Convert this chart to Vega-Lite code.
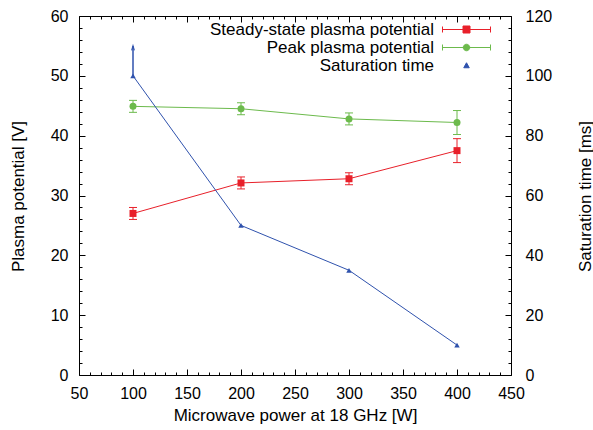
{
  "$schema": "https://vega.github.io/schema/vega-lite/v6.json",
  "width": 432,
  "height": 359,
  "autosize": {"type": "none"},
  "padding": {"left": 79, "top": 16, "right": 82, "bottom": 55},
  "config": {
    "font": "Liberation Sans",
    "view": {"stroke": "black", "strokeWidth": 1},
    "axis": {
      "domain": false,
      "grid": false,
      "ticks": true,
      "labelFontSize": 16,
      "titleFontSize": 17,
      "labelColor": "black",
      "titleColor": "black",
      "titleFontWeight": "normal",
      "tickColor": "black",
      "tickWidth": 1,
      "labelFlush": false,
      "labelOverlap": false
    },
    "legend": {
      "orient": "none",
      "legendX": 339,
      "legendY": 5,
      "padding": 0,
      "labelFontSize": 17,
      "labelColor": "black",
      "labelAlign": "right",
      "labelBaseline": "middle",
      "labelOffset": -41,
      "symbolOffset": 40,
      "symbolSize": 100,
      "labelLimit": 0,
      "rowPadding": 0
    }
  },
  "datasets": {
    "plasma": [
      {"power": 100, "series": "Steady-state plasma potential", "value": 27.0, "lo": 26.0, "hi": 28.0},
      {"power": 200, "series": "Steady-state plasma potential", "value": 32.1, "lo": 31.1, "hi": 33.1},
      {"power": 300, "series": "Steady-state plasma potential", "value": 32.8, "lo": 31.8, "hi": 33.8},
      {"power": 400, "series": "Steady-state plasma potential", "value": 37.5, "lo": 35.5, "hi": 39.5},
      {"power": 100, "series": "Peak plasma potential", "value": 44.9, "lo": 43.9, "hi": 45.9},
      {"power": 200, "series": "Peak plasma potential", "value": 44.5, "lo": 43.5, "hi": 45.5},
      {"power": 300, "series": "Peak plasma potential", "value": 42.8, "lo": 41.8, "hi": 43.8},
      {"power": 400, "series": "Peak plasma potential", "value": 42.2, "lo": 40.2, "hi": 44.2}
    ],
    "sat": [
      {"power": 100, "series": "Saturation time", "value": 100},
      {"power": 200, "series": "Saturation time", "value": 50},
      {"power": 300, "series": "Saturation time", "value": 35},
      {"power": 400, "series": "Saturation time", "value": 10}
    ],
    "arrow": [
      {"power": 100, "series": "Saturation time", "lo": 100, "hi": 110}
    ]
  },
  "layer": [
    {
      "data": {"name": "plasma"},
      "encoding": {
        "x": {
          "field": "power",
          "type": "quantitative",
          "scale": {"domain": [50, 450], "nice": false, "zero": false},
          "axis": {
            "orient": "bottom",
            "title": "Microwave power at 18 GHz [W]",
            "values": [50, 100, 150, 200, 250, 300, 350, 400, 450],
            "offset": -6,
            "tickSize": 6,
            "labelPadding": 10,
            "titleX": 216,
            "titleY": 46,
            "titleBaseline": "middle"
          }
        },
        "color": {
          "field": "series",
          "type": "nominal",
          "scale": {
            "domain": ["Steady-state plasma potential", "Peak plasma potential", "Saturation time"],
            "range": ["#e8202a", "#6cba4c", "#2f52ad"]
          },
          "legend": {
            "title": null,
            "encode": {
              "symbols": {
                "update": {
                  "shape": {"signal": "datum.value === 'Steady-state plasma potential' ? 'M-4.8,0H4.8M-4.8,-0.6V0.6M4.8,-0.6V0.6M-0.7,-0.7H0.7V0.7H-0.7Z' : datum.value === 'Peak plasma potential' ? 'M-4.8,0H4.8M-4.8,-0.6V0.6M4.8,-0.6V0.6M-0.65,0A0.65,0.65 0 1,0 0.65,0A0.65,0.65 0 1,0 -0.65,0Z' : 'M0,-0.55L0.55,0.45H-0.55Z'"},
                  "fill": {"scale": "color", "field": "value"},
                  "stroke": {"scale": "color", "field": "value"},
                  "strokeWidth": {"value": 1},
                  "opacity": {"value": 1},
                  "size": {"value": 100}
                }
              }
            }
          }
        }
      },
      "layer": [
        {
          "mark": {"type": "line", "strokeWidth": 1},
          "encoding": {
            "y": {
              "field": "value",
              "type": "quantitative",
              "scale": {"domain": [0, 60], "nice": false},
              "axis": {
                "orient": "left",
                "title": "Plasma potential [V]",
                "values": [0, 10, 20, 30, 40, 50, 60],
                "offset": -6,
                "tickSize": 6,
                "labelPadding": 11,
                "titleX": -67,
                "titleY": 180,
                "titleAngle": 270,
                "titleBaseline": "middle",
                "titleAlign": "center"
              }
            }
          }
        },
        {
          "mark": {"type": "rule", "strokeWidth": 1},
          "encoding": {
            "y": {"field": "lo", "type": "quantitative"},
            "y2": {"field": "hi"}
          }
        },
        {
          "mark": {"type": "tick", "orient": "horizontal", "size": 8, "thickness": 1, "opacity": 1},
          "encoding": {"y": {"field": "lo", "type": "quantitative"}}
        },
        {
          "mark": {"type": "tick", "orient": "horizontal", "size": 8, "thickness": 1, "opacity": 1},
          "encoding": {"y": {"field": "hi", "type": "quantitative"}}
        },
        {
          "transform": [{"filter": "datum.series === 'Steady-state plasma potential'"}],
          "mark": {"type": "point", "filled": true, "opacity": 1, "shape": "square", "size": 49},
          "encoding": {"y": {"field": "value", "type": "quantitative"}}
        },
        {
          "transform": [{"filter": "datum.series === 'Peak plasma potential'"}],
          "mark": {"type": "point", "filled": true, "opacity": 1, "shape": "circle", "size": 49},
          "encoding": {"y": {"field": "value", "type": "quantitative"}}
        }
      ]
    },
    {
      "encoding": {
        "x": {
          "field": "power",
          "type": "quantitative",
          "scale": {"domain": [50, 450], "nice": false, "zero": false},
          "axis": {
            "orient": "top",
            "title": null,
            "labels": false,
            "values": [50, 100, 150, 200, 250, 300, 350, 400, 450],
            "offset": -6,
            "tickSize": 6
          }
        },
        "color": {"field": "series", "type": "nominal"}
      },
      "layer": [
        {
          "data": {"name": "sat"},
          "mark": {"type": "line", "strokeWidth": 1},
          "encoding": {
            "y": {
              "field": "value",
              "type": "quantitative",
              "scale": {"domain": [0, 120], "nice": false},
              "axis": {
                "orient": "right",
                "title": "Saturation time [ms]",
                "values": [0, 20, 40, 60, 80, 100, 120],
                "offset": -6,
                "tickSize": 6,
                "labelPadding": 14,
                "titleX": 80,
                "titleY": 180,
                "titleAngle": 270,
                "titleBaseline": "middle",
                "titleAlign": "center"
              }
            }
          }
        },
        {
          "data": {"name": "sat"},
          "mark": {"type": "point", "filled": true, "opacity": 1, "shape": "triangle-up", "size": 30},
          "encoding": {"y": {"field": "value", "type": "quantitative"}}
        },
        {
          "data": {"name": "arrow"},
          "mark": {"type": "rule", "strokeWidth": 1.5},
          "encoding": {
            "y": {"field": "lo", "type": "quantitative"},
            "y2": {"field": "hi"}
          }
        },
        {
          "data": {"name": "arrow"},
          "mark": {"type": "point", "filled": false, "opacity": 1, "strokeWidth": 1.2, "shape": "M-0.6,2L0,0L0.6,2", "size": 20},
          "encoding": {"y": {"field": "hi", "type": "quantitative"}}
        }
      ]
    },
    {
      "data": {"name": "plasma"},
      "mark": {"type": "point", "opacity": 0},
      "encoding": {
        "x": {
          "field": "power",
          "type": "quantitative",
          "scale": {"domain": [50, 450], "nice": false, "zero": false},
          "axis": {
            "orient": "bottom",
            "title": null,
            "labels": false,
            "values": [60,70,80,90,110,120,130,140,160,170,180,190,210,220,230,240,260,270,280,290,310,320,330,340,360,370,380,390,410,420,430,440],
            "offset": -3,
            "tickSize": 3
          }
        },
        "y": {
          "field": "value",
          "type": "quantitative",
          "scale": {"domain": [0, 60], "nice": false},
          "axis": {
            "orient": "left",
            "title": null,
            "labels": false,
            "values": [2,4,6,8,12,14,16,18,22,24,26,28,32,34,36,38,42,44,46,48,52,54,56,58],
            "offset": -3,
            "tickSize": 3
          }
        }
      }
    },
    {
      "data": {"name": "sat"},
      "mark": {"type": "point", "opacity": 0},
      "encoding": {
        "x": {
          "field": "power",
          "type": "quantitative",
          "scale": {"domain": [50, 450], "nice": false, "zero": false},
          "axis": {
            "orient": "top",
            "title": null,
            "labels": false,
            "values": [60,70,80,90,110,120,130,140,160,170,180,190,210,220,230,240,260,270,280,290,310,320,330,340,360,370,380,390,410,420,430,440],
            "offset": -3,
            "tickSize": 3
          }
        },
        "y": {
          "field": "value",
          "type": "quantitative",
          "scale": {"domain": [0, 120], "nice": false},
          "axis": {
            "orient": "right",
            "title": null,
            "labels": false,
            "values": [4,8,12,16,24,28,32,36,44,48,52,56,64,68,72,76,84,88,92,96,104,108,112,116],
            "offset": -3,
            "tickSize": 3
          }
        }
      }
    }
  ],
  "resolve": {"scale": {"y": "independent"}, "axis": {"x": "independent", "y": "independent"}}
}
